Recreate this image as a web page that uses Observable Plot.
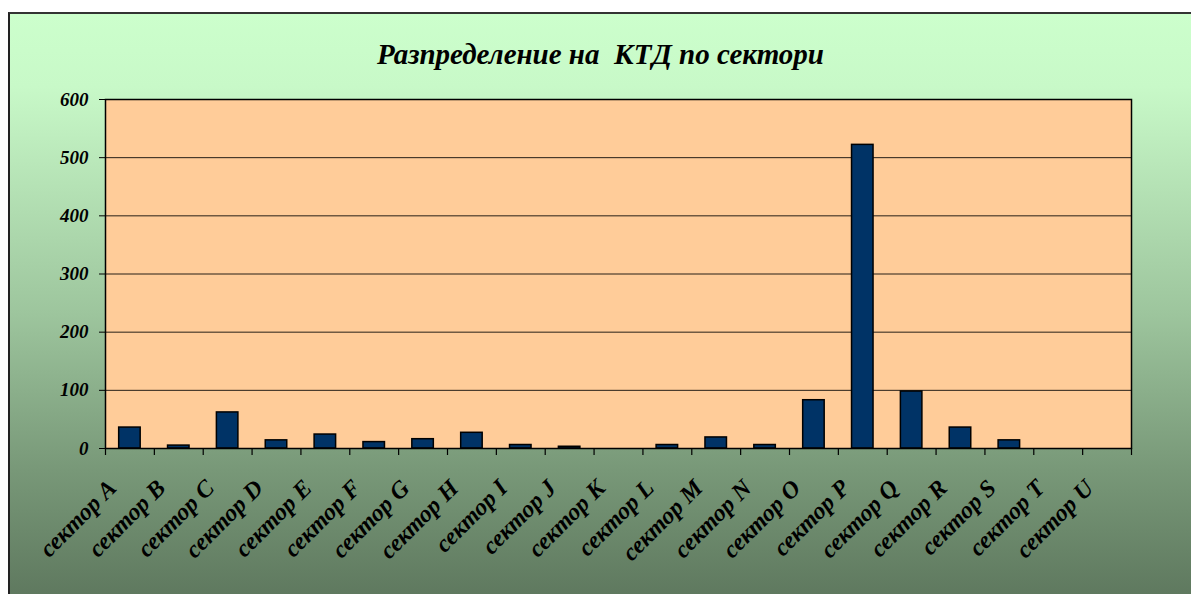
<!DOCTYPE html>
<html>
<head>
<meta charset="utf-8">
<script src="https://cdn.jsdelivr.net/npm/d3@7"></script>
<script src="https://cdn.jsdelivr.net/npm/@observablehq/plot@0.6"></script>
<style>
  html, body { margin: 0; padding: 0; background: #ffffff; width: 1191px; height: 594px; overflow: hidden; }
  #chart {
    position: absolute; left: 8px; top: 12px; width: 1200px; height: 600px;
    border-left: 2px solid #222; border-top: 2px solid #333;
    background: linear-gradient(to bottom, #CCFFCC 0%, #C8F9C8 12%, #9DC59D 50%, #789878 76%, #5B745B 100%);
  }
  #title {
    height: 40px; padding-top: 26px; width: 1181px; text-align: center;
    font-family: "Liberation Serif", "Times New Roman", serif; font-weight: bold; font-style: italic;
    font-size: 29px; line-height: 28px; white-space: pre; color: #000;
  }
  #plot svg { display: block; }
</style>
</head>
<body>
<div id="chart">
  <div id="title">Разпределение на  КТД по сектори</div>
  <div id="plot"></div>
</div>
<script>
const categories = ["сектор A","сектор B","сектор C","сектор D","сектор E","сектор F","сектор G","сектор H","сектор I","сектор J","сектор K","сектор L","сектор M","сектор N","сектор O","сектор P","сектор Q","сектор R","сектор S","сектор T","сектор U"];
const values = [36, 5, 62, 14, 24, 11, 16, 27, 6, 3, 0, 6, 19, 6, 83, 522, 98, 36, 14, 0, 0];
const yTicks = [0, 100, 200, 300, 400, 500, 600];

const data = categories.map((c, i) => ({sector: c, value: values[i]}));

const W = 1181, H = 514, ML = 95, MR = 60, MT = 19, MB = 146;
const plotH = H - MT - MB;
const step = (W - ML - MR) / categories.length;
const font = {fontFamily: "Liberation Serif, Times New Roman, serif", fontWeight: "bold", fontStyle: "italic"};

const chart = Plot.plot({
  width: W, height: H,
  marginLeft: ML, marginRight: MR, marginTop: MT, marginBottom: MB,
  style: {background: "transparent", overflow: "visible", color: "#000"},
  x: {domain: categories, padding: 0, round: false, axis: null},
  y: {domain: [0, 600], axis: null},
  marks: [
    Plot.frame({fill: "#FFCC99"}),
    Plot.gridY({ticks: yTicks, stroke: "#000", strokeOpacity: 0.85, strokeWidth: 1}),
    Plot.barY(data, {x: "sector", y: "value", fill: "#003366", stroke: "#000", strokeWidth: 1.5,
      insetLeft: (step - 21.5) / 2, insetRight: (step - 21.5) / 2}),
    Plot.frame({stroke: "#000", strokeWidth: 1.5}),
    Plot.axisY({ticks: yTicks, tickSize: 6, tickPadding: 11, fontSize: 19, label: null, stroke: "#000", ...font}),
    Plot.ruleX(categories, {x: d => d, dx: -step / 2, insetTop: plotH, insetBottom: -7, stroke: "#000", strokeWidth: 1.2}),
    Plot.ruleX(categories.slice(-1), {x: d => d, dx: step / 2, insetTop: plotH, insetBottom: -7, stroke: "#000", strokeWidth: 1.2}),
    Plot.text(categories, {x: d => d, frameAnchor: "bottom", rotate: -45, textAnchor: "end",
      dx: -12, dy: 41, fontSize: 24, fill: "#000", ...font})
  ]
});
document.getElementById("plot").appendChild(chart);
</script>
</body>
</html>
